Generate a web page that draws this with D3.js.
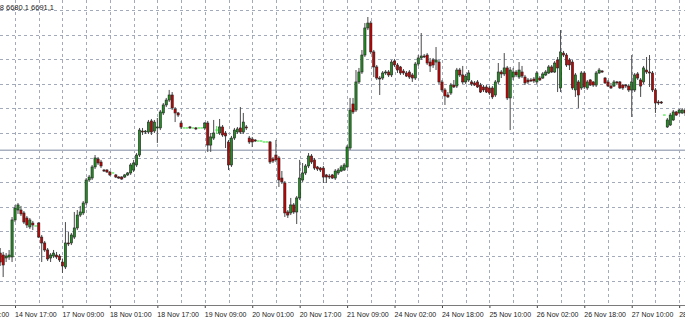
<!DOCTYPE html>
<html>
<head>
<meta charset="utf-8">
<script src="https://cdn.jsdelivr.net/npm/d3@7"></script>
<style>
  body { margin: 0; background: #fff; }
  svg { display: block; }
</style>
</head>
<body>
<div id="chart"></div>
<script>
let w = 685;
let h = 320;

// hourly OHLC, one entry per bar, left to right
let opens = [
  6582.4,6580.8,6578.4,6579.2,6579.2,6609.3,6617.4,6617.4,6615.0,6610.9,
  6603.6,6606.8,6604.4,6606.8,6595.4,6590.6,6584.9,6578.4,6580.0,6580.8,
  6580.0,6575.1,6571.1,6590.6,6590.6,6595.4,6602.8,6613.3,6615.0,6623.1,
  6641.8,6643.4,6652.4,6658.9,6656.4,6649.9,6649.9,6648.3,6647.5,6645.9,
  6644.2,6644.2,6644.2,6645.9,6647.5,6649.9,6654.0,6662.1,6681.6,6680.8,
  6680.8,6689.8,6681.6,6684.1,6684.1,6696.3,6702.8,6706.8,6710.9,6699.5,
  6696.3,6688.1,6684.1,6684.1,6684.9,6684.1,6684.1,6684.1,6684.1,6684.1,
  6688.1,6670.2,6675.9,6682.4,6680.0,6684.9,6680.0,6672.7,6654.0,6675.9,
  6680.8,6684.1,6680.8,6684.9,6675.9,6675.1,6674.3,6673.5,6673.5,6672.7,
  6672.7,6672.7,6658.9,6662.1,6659.7,6643.4,6639.4,6615.8,6615.0,6621.5,
  6615.8,6627.2,6641.8,6647.5,6653.2,6661.3,6658.1,6652.4,6651.5,6651.5,
  6645.9,6645.0,6645.9,6643.4,6647.5,6649.1,6649.9,6652.4,6667.8,6703.6,
  6698.7,6721.5,6729.6,6743.4,6765.4,6769.4,6745.9,6733.7,6724.7,6724.7,
  6728.8,6729.6,6727.2,6738.5,6735.3,6733.7,6730.4,6728.8,6729.6,6727.2,
  6724.7,6736.1,6741.0,6742.6,6743.4,6737.7,6739.4,6737.7,6737.7,6721.5,
  6715.0,6710.9,6712.5,6719.0,6718.2,6731.2,6727.2,6721.5,6723.1,6721.5,
  6720.7,6721.5,6719.0,6717.4,6717.4,6716.6,6716.6,6710.9,6721.5,6729.6,
  6728.0,6732.9,6708.5,6725.5,6729.6,6725.5,6729.6,6725.5,6723.1,6723.1,
  6723.9,6721.5,6724.7,6724.7,6727.2,6728.8,6733.7,6729.6,6739.4,6716.6,
  6745.0,6743.4,6739.4,6737.7,6715.0,6721.5,6716.6,6728.8,6716.6,6723.1,
  6721.5,6719.0,6728.8,6730.4,6724.7,6721.5,6718.2,6718.2,6721.5,6721.5,
  6719.0,6719.0,6718.2,6715.0,6715.0,6728.0,6723.1,6721.5,6731.2,6729.6,
  6728.8,6715.0,6705.2,6705.2,6694.6,6684.9,6686.5,6690.6,6697.1,6696.3,
  6696.3,6698.7
];
let highs = [
  6586.5,6583.3,6582.4,6584.9,6611.7,6621.5,6623.1,6620.7,6616.6,6612.5,
  6610.9,6608.5,6604.4,6607.6,6597.1,6592.2,6586.5,6582.4,6584.9,6583.3,
  6581.6,6577.6,6607.6,6599.5,6598.7,6615.8,6617.4,6620.7,6624.7,6643.4,
  6645.9,6654.0,6662.1,6660.5,6658.1,6650.7,6650.7,6649.1,6647.5,6646.7,
  6645.0,6645.0,6646.7,6648.3,6655.6,6658.1,6663.7,6684.1,6684.1,6682.4,
  6690.6,6691.4,6690.6,6692.2,6698.7,6704.4,6708.5,6715.0,6713.3,6701.1,
  6697.1,6689.8,6684.1,6684.1,6685.7,6684.1,6684.9,6684.1,6684.1,6688.9,
  6689.8,6680.0,6690.6,6685.7,6691.4,6686.5,6681.6,6674.3,6677.6,6684.1,
  6684.9,6701.1,6696.3,6686.5,6677.6,6676.8,6675.1,6673.5,6673.5,6672.7,
  6672.7,6673.5,6660.5,6674.3,6661.3,6649.1,6641.0,6617.4,6627.2,6623.1,
  6628.8,6658.1,6655.6,6654.8,6663.7,6662.9,6659.7,6653.2,6652.4,6653.2,
  6646.7,6646.7,6646.7,6650.7,6651.5,6654.0,6655.6,6670.2,6708.5,6708.5,
  6731.2,6732.9,6747.5,6769.4,6774.3,6771.1,6747.5,6735.3,6726.3,6730.4,
  6731.2,6731.2,6739.4,6740.2,6736.9,6734.5,6732.0,6730.4,6731.2,6728.8,
  6737.7,6743.4,6761.3,6744.2,6745.0,6741.0,6741.0,6749.9,6739.4,6723.1,
  6716.6,6713.3,6720.7,6723.1,6732.9,6732.9,6734.5,6728.0,6731.2,6723.1,
  6722.3,6723.1,6720.7,6719.0,6719.0,6718.2,6718.2,6723.1,6736.9,6731.2,
  6745.0,6734.5,6733.7,6732.9,6731.2,6737.7,6734.5,6727.2,6724.7,6724.7,
  6725.5,6730.4,6726.3,6729.6,6731.2,6735.3,6735.3,6738.5,6741.8,6763.7,
  6746.7,6745.0,6741.0,6739.4,6728.8,6723.1,6730.4,6730.4,6723.1,6723.9,
  6722.3,6730.4,6732.9,6731.2,6725.5,6723.1,6720.7,6723.1,6722.3,6722.3,
  6719.8,6719.8,6719.8,6743.4,6728.8,6729.6,6724.7,6734.5,6741.8,6743.4,
  6730.4,6716.6,6706.8,6706.0,6694.6,6692.2,6696.3,6698.7,6697.9,6699.5,
  6700.3,6699.5
];
let lows = [
  6571.9,6562.9,6575.1,6576.8,6575.1,6607.6,6614.2,6612.5,6606.0,6602.8,
  6602.0,6601.1,6604.4,6594.6,6575.1,6583.3,6575.9,6575.1,6578.4,6577.6,
  6575.1,6566.2,6569.4,6588.1,6588.9,6593.8,6601.1,6611.7,6613.3,6621.5,
  6640.2,6641.8,6650.7,6654.0,6651.5,6648.3,6647.5,6645.0,6647.5,6643.4,
  6642.6,6641.8,6643.4,6645.0,6645.9,6648.3,6652.4,6660.5,6678.4,6679.2,
  6679.2,6678.4,6680.0,6671.9,6682.4,6694.6,6701.1,6705.2,6698.7,6688.9,
  6693.0,6683.3,6684.1,6684.1,6683.3,6684.1,6682.4,6684.1,6684.1,6682.4,
  6664.6,6664.6,6674.3,6679.2,6678.4,6676.8,6667.8,6649.9,6652.4,6674.3,
  6679.2,6679.2,6679.2,6682.4,6671.1,6668.6,6672.7,6673.5,6673.5,6672.7,
  6672.7,6654.8,6655.6,6656.4,6636.1,6638.5,6611.7,6610.9,6613.3,6614.2,
  6606.0,6625.5,6640.2,6645.9,6651.5,6654.8,6649.9,6649.1,6648.3,6639.4,
  6639.4,6642.6,6642.6,6641.8,6645.9,6648.3,6649.1,6651.5,6666.2,6695.4,
  6697.1,6719.8,6728.0,6741.8,6763.7,6744.2,6725.5,6723.1,6710.9,6723.1,
  6727.2,6725.5,6725.5,6733.7,6728.8,6727.2,6727.2,6725.5,6723.9,6721.5,
  6723.1,6734.5,6739.4,6741.0,6735.3,6729.6,6732.9,6731.2,6719.8,6713.3,
  6702.8,6708.5,6710.9,6716.6,6716.6,6725.5,6719.8,6719.8,6721.5,6718.2,
  6718.2,6716.6,6712.5,6713.3,6712.5,6710.9,6707.6,6709.3,6719.8,6724.7,
  6726.3,6706.8,6682.4,6723.1,6725.5,6723.9,6724.7,6719.0,6719.8,6721.5,
  6720.7,6719.8,6722.3,6723.9,6726.3,6728.0,6728.8,6728.8,6713.3,6713.3,
  6741.8,6733.7,6731.2,6715.0,6709.3,6700.3,6715.0,6715.8,6715.0,6718.2,
  6717.4,6717.4,6728.0,6728.8,6719.8,6717.4,6715.8,6717.4,6719.0,6715.8,
  6715.0,6716.6,6713.3,6693.0,6713.3,6723.1,6709.3,6719.8,6728.0,6717.4,
  6713.3,6696.3,6702.8,6703.6,6694.6,6684.1,6685.7,6689.8,6693.8,6695.4,
  6695.4,6693.8
];
let closes = [
  6575.1,6572.7,6580.0,6580.8,6609.3,6619.0,6621.5,6614.2,6607.6,6605.2,
  6609.3,6605.2,6604.4,6595.4,6590.6,6584.9,6577.6,6580.8,6582.4,6579.2,
  6576.8,6571.9,6590.6,6589.8,6597.1,6602.8,6613.3,6615.8,6623.1,6641.8,
  6644.2,6652.4,6659.7,6655.6,6653.2,6649.1,6648.3,6645.9,6647.5,6644.2,
  6643.4,6642.6,6645.9,6647.5,6654.0,6655.6,6662.1,6682.4,6680.8,6681.6,
  6688.9,6680.8,6688.9,6684.9,6697.1,6702.8,6706.8,6710.9,6700.3,6696.3,
  6694.6,6684.9,6684.1,6684.1,6684.1,6684.1,6683.3,6684.1,6684.1,6688.1,
  6670.2,6676.8,6680.0,6682.4,6684.9,6678.4,6677.6,6654.0,6675.9,6682.4,
  6683.3,6680.8,6688.9,6684.1,6672.7,6672.7,6673.5,6673.5,6673.5,6672.7,
  6672.7,6656.4,6657.2,6658.1,6641.8,6640.2,6615.0,6613.3,6621.5,6615.8,
  6627.2,6643.4,6647.5,6653.2,6661.3,6656.4,6651.5,6650.7,6649.9,6644.2,
  6644.2,6644.2,6643.4,6649.1,6649.9,6652.4,6654.0,6668.6,6698.7,6697.1,
  6721.5,6729.6,6743.4,6765.4,6769.4,6745.9,6733.7,6724.7,6723.9,6728.8,
  6729.6,6727.2,6737.7,6735.3,6731.2,6728.8,6728.8,6726.3,6725.5,6724.7,
  6736.1,6741.0,6742.6,6741.8,6736.9,6734.5,6735.3,6739.4,6721.5,6715.0,
  6710.1,6709.3,6719.0,6717.4,6731.2,6727.2,6721.5,6726.3,6728.8,6719.8,
  6719.0,6717.4,6713.3,6715.0,6713.3,6712.5,6709.3,6721.5,6729.6,6728.0,
  6732.9,6708.5,6731.2,6729.6,6727.2,6731.2,6726.3,6720.7,6721.5,6722.3,
  6722.3,6728.8,6723.1,6728.0,6729.6,6733.7,6729.6,6736.9,6732.9,6745.9,
  6743.4,6735.3,6735.3,6716.6,6727.2,6710.9,6728.8,6717.4,6721.5,6719.0,
  6719.0,6728.8,6731.2,6729.6,6720.7,6718.2,6716.6,6721.5,6720.7,6716.6,
  6716.6,6718.2,6715.0,6721.5,6727.2,6724.7,6718.2,6732.9,6729.6,6728.8,
  6715.0,6704.4,6704.4,6704.4,6694.6,6690.6,6694.6,6697.1,6694.6,6698.7,
  6698.7,6696.3
];

let tickLabels = ["14 Nov 01:00","14 Nov 17:00","17 Nov 09:00","18 Nov 01:00","18 Nov 17:00",
  "19 Nov 09:00","20 Nov 01:00","20 Nov 17:00","21 Nov 09:00","24 Nov 02:00","24 Nov 18:00",
  "25 Nov 10:00","26 Nov 02:00","26 Nov 18:00","27 Nov 10:00","28 Nov 02:00"];
let firstLabelBar = -11;   // bar index of the first (cut off) label
let barsPerLabel = 16;
let gridPrices = [6560,6580,6600,6620,6640,6660,6680,6700,6720,6740,6760,6780];
let levelPrice = 6666;
let header = "6692.2 6694.8 6680.1 6691.1";

let axisY = 305;
let font = "'Liberation Sans', Arial, sans-serif";

let viz = d3.select("#chart")
    .append("svg")
  .attr("width", w)
  .attr("height", h)
  .style("background-color", "white")
;

let xScale = d3.scaleLinear().domain([0, opens.length - 1]).range([0.2, 685.1]);
let yScale = d3.scaleLinear().domain([6560, 6780]).range([280.6, 10]);

let snap = v => Math.round(v) + 0.5;

// grid
let gridGroup = viz.append("g")
  .attr("stroke", "#a3abbb")
  .attr("stroke-width", 1)
  .attr("stroke-dasharray", "3,3")
;
gridGroup.selectAll(".hgrid").data(gridPrices).enter()
  .append("line")
  .attr("class", "hgrid")
  .attr("x1", 0).attr("x2", w)
  .attr("y1", d => snap(yScale(d)))
  .attr("y2", d => snap(yScale(d)))
;
let gridBars = d3.range(firstLabelBar, opens.length + 8, barsPerLabel / 2);
gridGroup.selectAll(".vgrid").data(gridBars).enter()
  .append("line")
  .attr("class", "vgrid")
  .attr("x1", d => snap(xScale(d)))
  .attr("x2", d => snap(xScale(d)))
  .attr("y1", 0).attr("y2", axisY)
;

// horizontal level line
viz.append("line")
  .attr("x1", 0).attr("x2", w)
  .attr("y1", yScale(levelPrice)).attr("y2", yScale(levelPrice))
  .attr("stroke", "#a8b0c0")
  .attr("stroke-width", 1.5)
;

// candles
let bars = d3.range(opens.length).map(i => ({
  i: i, o: opens[i], hi: highs[i], lo: lows[i], c: closes[i]
}));
let bodyW = 2.2;

let candle = viz.append("g").selectAll(".candle").data(bars).enter()
  .append("g")
  .attr("class", "candle")
;

candle.filter(d => d.o !== d.c)
  .append("line")
  .attr("x1", d => xScale(d.i)).attr("x2", d => xScale(d.i))
  .attr("y1", d => yScale(d.hi)).attr("y2", d => yScale(d.lo))
  .attr("stroke", "#4a4a4a")
  .attr("stroke-width", 1)
;
candle.filter(d => d.o !== d.c)
  .append("rect")
  .attr("x", d => xScale(d.i) - bodyW / 2)
  .attr("width", bodyW)
  .attr("y", d => yScale(Math.max(d.o, d.c)))
  .attr("height", d => Math.max(0.8, Math.abs(yScale(d.o) - yScale(d.c))))
  .attr("fill", d => d.c > d.o ? "#1f8f1f" : "#c40000")
  .attr("stroke", "#222")
  .attr("stroke-width", 0.6)
;

// doji bars use the line colour
let doji = candle.filter(d => d.o === d.c);
doji.filter(d => d.hi > d.lo)
  .append("line")
  .attr("x1", d => xScale(d.i)).attr("x2", d => xScale(d.i))
  .attr("y1", d => yScale(d.hi)).attr("y2", d => yScale(d.lo))
  .attr("stroke", "#44e844")
  .attr("stroke-width", 1)
;
doji.append("line")
  .attr("x1", d => xScale(d.i) - 1.3).attr("x2", d => xScale(d.i) + 1.3)
  .attr("y1", d => yScale(d.o)).attr("y2", d => yScale(d.o))
  .attr("stroke", "#44e844")
  .attr("stroke-width", 1.2)
;

// time axis
let tickBars = tickLabels.map((t, k) => firstLabelBar + k * barsPerLabel);
let xAxis = d3.axisBottom(xScale)
  .tickValues(tickBars)
  .tickFormat((d, k) => tickLabels[k])
  .tickSize(3)
  .tickSizeOuter(0)
;
let xAxisGroup = viz.append("g")
  .attr("transform", "translate(0," + axisY + ")")
  .call(xAxis)
;
xAxisGroup.select(".domain").remove();
xAxisGroup.append("line")
  .attr("x1", 0).attr("x2", w)
  .attr("y1", 0.5).attr("y2", 0.5)
  .attr("stroke", "#7a7a7a")
;
xAxisGroup.selectAll(".tick line").attr("stroke", "#444");
xAxisGroup.selectAll(".tick text")
  .attr("text-anchor", "start")
  .attr("x", -0.5)
  .attr("y", 6.7)
  .attr("fill", "#1a1a1a")
  .style("font-family", font)
  .style("font-size", "7px")
;

// header values
viz.append("text")
  .text(header)
  .attr("x", 54)
  .attr("y", 9.5)
  .attr("text-anchor", "end")
  .attr("fill", "#1a1a1a")
  .style("font-family", font)
  .style("font-size", "7.5px")
;
</script>
</body>
</html>
